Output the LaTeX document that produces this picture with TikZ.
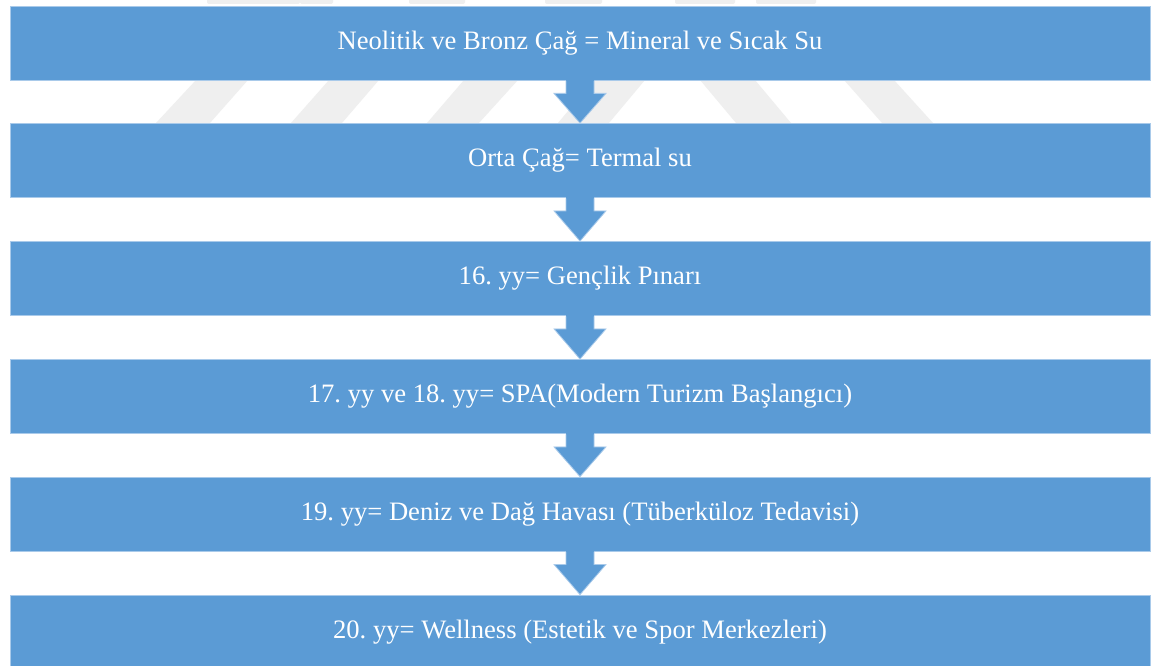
\documentclass[tikz,border=0pt]{standalone}
\usepackage{fontspec}
\setmainfont{Liberation Serif}
\usetikzlibrary{calc}
\frenchspacing
\definecolor{boxblue}{HTML}{5B9BD5}
\definecolor{edgeblue}{HTML}{A9CAEA}
\definecolor{wmgray}{HTML}{EFEFEF}
\tikzset{
  stagebox/.style={rectangle, fill=boxblue, draw=edgeblue, line width=0.8pt,
    minimum width=1140pt, minimum height=74pt, inner sep=0pt,
    text=white, font=\fontsize{26.6}{31}\selectfont},
  arrowfill/.style={fill=boxblue},
  arrowedge/.style={draw=edgeblue, line width=0.8pt, line join=miter},
  stripe/.style={fill=wmgray, draw=none}
}
\newcommand\flowarrow[2]{%
  \fill[arrowfill] ($(#1.south)+(-14,-1)$) -- ($(#1.south)+(-14,13)$) -- ($(#1.south)+(-26,13)$)
    -- (#2.north) -- ($(#1.south)+(26,13)$) -- ($(#1.south)+(14,13)$) -- ($(#1.south)+(14,-1)$) -- cycle;
  \draw[arrowedge] ($(#1.south)+(-14,0.5)$) -- ($(#1.south)+(-14,13)$) -- ($(#1.south)+(-26,13)$)
    -- (#2.north) -- ($(#1.south)+(26,13)$) -- ($(#1.south)+(14,13)$) -- ($(#1.south)+(14,0.5)$);
}
\begin{document}
\begin{tikzpicture}[x=1pt,y=-1pt]
\clip (0,0) rectangle (1151,666);
\fill[white] (0,0) rectangle (1151,666);
% faint watermark stripes
\foreach \a/\b/\c/\d in {156/210/248/196, 291/342/379/329, 427/479/518/464, 558/609/645/594}
  \fill[stripe] (\a,123) -- (\b,123) -- (\c,80) -- (\d,80) -- cycle;
\foreach \a/\b/\c/\d in {700/755/791/736, 844/894/933/882}
  \fill[stripe] (\a,80) -- (\b,80) -- (\c,123) -- (\d,123) -- cycle;
\foreach \a/\b in {300/333, 409/465, 545/602, 675/735, 756/816, 207/300}
  \fill[stripe, rounded corners=2pt] (\a,-4) rectangle (\b,4);
% stages
\node[stagebox] (b1) at (580,43)  {Neolitik ve Bronz Çağ = Mineral ve Sıcak Su};
\node[stagebox] (b2) at (580,160.5) {Orta Çağ= Termal su};
\node[stagebox] (b3) at (580,278.5) {16. yy= Gençlik Pınarı};
\node[stagebox] (b4) at (580,396.5) {17. yy ve 18. yy= SPA(Modern Turizm Başlangıcı)};
\node[stagebox] (b5) at (580,514) {19. yy= Deniz ve Dağ Havası (Tüberküloz Tedavisi)};
\node[stagebox] (b6) at (580,632) {20. yy= Wellness (Estetik ve Spor Merkezleri)};
% arrows
\flowarrow{b1}{b2}
\flowarrow{b2}{b3}
\flowarrow{b3}{b4}
\flowarrow{b4}{b5}
\flowarrow{b5}{b6}
\end{tikzpicture}
\end{document}
